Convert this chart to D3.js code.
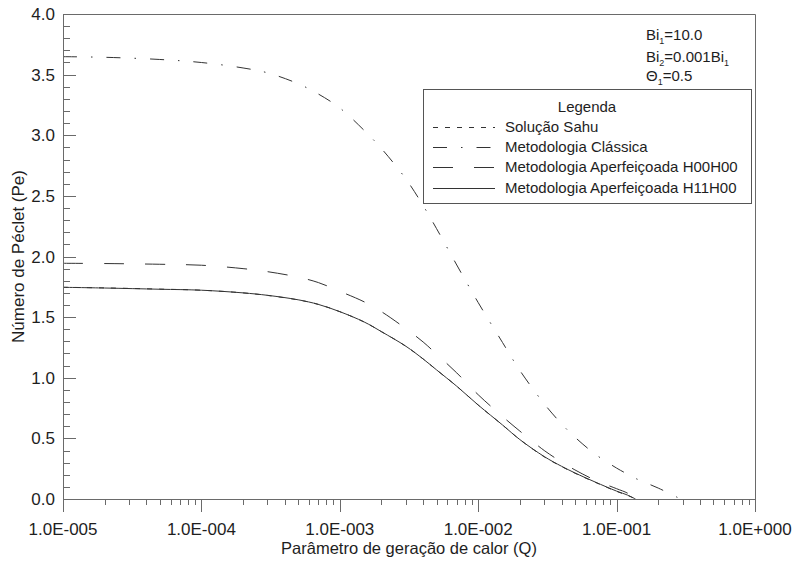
<!DOCTYPE html>
<html>
<head>
<meta charset="utf-8">
<script src="https://cdn.jsdelivr.net/npm/d3@7"></script>
<style>
    body { margin: 0; background: #fff; }
    svg { display: block; font-family: "Liberation Sans", Arial, sans-serif; }
</style>
</head>
<body>
<svg id="chart" width="795" height="563"></svg>
<script>
// values
const qValues = [1e-5, 2e-5, 5e-5, 1e-4, 2e-4, 3e-4, 5e-4, 7e-4, 1e-3, 1.5e-3, 2e-3, 3e-3, 4e-3, 5e-3,
    7e-3, 1e-2, 1.5e-2, 2e-2, 3e-2, 4e-2, 5e-2, 7e-2, 0.1, 0.12, 0.137];
const classicaQ = [1e-5, 2e-5, 5e-5, 1e-4, 2e-4, 3e-4, 5e-4, 7e-4, 1e-3, 1.5e-3, 2e-3, 3e-3, 4e-3, 5e-3,
    7e-3, 1e-2, 1.5e-2, 2e-2, 3e-2, 4e-2, 5e-2, 7e-2, 0.1, 0.12, 0.14, 0.2, 0.29];
const classica = [3.648, 3.643, 3.625, 3.60, 3.555, 3.515, 3.425, 3.34, 3.225, 3.04, 2.89, 2.64, 2.42, 2.23,
    1.93, 1.62, 1.29, 1.06, 0.785, 0.62, 0.51, 0.37, 0.255, 0.205, 0.165, 0.09, 0.0];
const h00h00 = [1.944, 1.942, 1.936, 1.928, 1.90, 1.875, 1.83, 1.785, 1.713, 1.626, 1.545, 1.405, 1.295, 1.195,
    1.04, 0.86, 0.68, 0.56, 0.40, 0.305, 0.24, 0.155, 0.085, 0.048, 0.0];
const h11h00 = [1.746, 1.74, 1.73, 1.722, 1.70, 1.68, 1.643, 1.605, 1.545, 1.46, 1.38, 1.26, 1.155, 1.065,
    0.93, 0.775, 0.61, 0.49, 0.35, 0.27, 0.215, 0.14, 0.065, 0.032, 0.0];
const sahu = [1.746, 1.741, 1.731, 1.722, 1.70, 1.679, 1.642, 1.605, 1.545, 1.46, 1.38, 1.26, 1.155, 1.065,
    0.93, 0.775, 0.61, 0.49, 0.348, 0.268, 0.213, 0.138, 0.063, 0.03, 0.0];

const xTickValues = [1e-5, 1e-4, 1e-3, 1e-2, 1e-1, 1];
const xTickLabels = ["1.0E-005", "1.0E-004", "1.0E-003", "1.0E-002", "1.0E-001", "1.0E+000"];
const yTickValues = [0, 0.5, 1, 1.5, 2, 2.5, 3, 3.5, 4];
const yTickLabels = ["0.0", "0.5", "1.0", "1.5", "2.0", "2.5", "3.0", "3.5", "4.0"];

const seriesNames = ["Solução Sahu", "Metodologia Clássica", "Metodologia Aperfeiçoada H00H00", "Metodologia Aperfeiçoada H11H00"];

const svg = d3.select("#chart");
const plotLeft = 63, plotRight = 755, plotTop = 14, plotBottom = 499;
const axisColor = "#6a6a6a";
const lineColor = "#333";
const textColor = "#1e1e1e";

const x = d3.scaleLog().domain([1e-5, 1]).range([plotLeft, plotRight]);
const y = d3.scaleLinear().domain([0, 4]).range([plotBottom, plotTop]);

// curves
const series = [
    { name: seriesNames[0], q: qValues, v: sahu, dash: "5,7" },
    { name: seriesNames[1], q: classicaQ, v: classica, dash: "14,14,1.5,14" },
    { name: seriesNames[2], q: qValues, v: h00h00, dash: "20,21" },
    { name: seriesNames[3], q: qValues, v: h11h00, dash: null },
];

const line = d3.line()
    .x(d => x(d[0]))
    .y(d => y(d[1]))
    .curve(d3.curveCatmullRom.alpha(0.5));

const curves = svg.append("g").attr("id", "curves");
for (let s of series) {
    curves.append("path")
        .attr("d", line(d3.zip(s.q, s.v)))
        .attr("fill", "none")
        .attr("stroke", lineColor)
        .attr("stroke-width", 1)
        .attr("stroke-dasharray", s.dash);
}

// frame
const frame = svg.append("g").attr("stroke", axisColor).attr("stroke-width", 1).attr("fill", "none");
frame.append("path")
    .attr("d", `M${plotLeft + 0.5},${plotBottom + 0.5}V${plotTop + 0.5}H${plotRight + 0.5}V${plotBottom + 0.5}H${plotLeft + 0.5}`);

// y ticks, pointing inward
const yMinor = y.ticks(40);
frame.selectAll(".ytick")
    .data(yMinor)
    .join("line")
    .attr("x1", plotLeft)
    .attr("x2", d => plotLeft + (Math.abs(d * 2 - Math.round(d * 2)) < 1e-6 ? 13 : 7))
    .attr("y1", d => Math.round(y(d)) + 0.5)
    .attr("y2", d => Math.round(y(d)) + 0.5);

// x ticks, pointing outward
const xMinor = x.ticks().filter(d => !xTickValues.some(m => Math.abs(m - d) / m < 1e-9));
frame.selectAll(".xminor")
    .data(xMinor)
    .join("line")
    .attr("x1", d => Math.round(x(d)) + 0.5)
    .attr("x2", d => Math.round(x(d)) + 0.5)
    .attr("y1", plotBottom)
    .attr("y2", plotBottom + 6);
frame.selectAll(".xmajor")
    .data(xTickValues)
    .join("line")
    .attr("x1", d => Math.round(x(d)) + 0.5)
    .attr("x2", d => Math.round(x(d)) + 0.5)
    .attr("y1", plotBottom)
    .attr("y2", plotBottom + 13);

// tick labels
svg.append("g")
    .selectAll("text")
    .data(xTickValues)
    .join("text")
    .attr("x", d => x(d))
    .attr("y", 535)
    .attr("text-anchor", "middle")
    .attr("font-size", 17)
    .attr("fill", textColor)
    .text((d, i) => xTickLabels[i]);

svg.append("g")
    .selectAll("text")
    .data(yTickValues)
    .join("text")
    .attr("x", 55)
    .attr("y", d => y(d))
    .attr("dy", "0.36em")
    .attr("text-anchor", "end")
    .attr("font-size", 17)
    .attr("fill", textColor)
    .text((d, i) => yTickLabels[i]);

// axis titles
svg.append("text")
    .attr("x", (plotLeft + plotRight) / 2)
    .attr("y", 554)
    .attr("text-anchor", "middle")
    .attr("font-size", 16.5)
    .attr("fill", textColor)
    .text("Parâmetro de geração de calor (Q)");

svg.append("text")
    .attr("transform", `translate(24,${(plotTop + plotBottom) / 2}) rotate(-90)`)
    .attr("text-anchor", "middle")
    .attr("font-size", 17)
    .attr("fill", textColor)
    .text("Número de Péclet (Pe)");

// parameters note
const note = svg.append("g").attr("font-size", 15).attr("fill", textColor);
function noteLine(yPos, parts) {
    const t = note.append("text").attr("x", 646).attr("y", yPos);
    for (let p of parts) {
        const span = t.append("tspan").text(p.t);
        if (p.sub) span.attr("font-size", 9).attr("dy", 4);
        else if (p.back) span.attr("dy", -4);
    }
}
noteLine(40, [{ t: "Bi" }, { t: "1", sub: true }, { t: "=10.0", back: true }]);
noteLine(62, [{ t: "Bi" }, { t: "2", sub: true }, { t: "=0.001Bi", back: true }, { t: "1", sub: true }]);
noteLine(81, [{ t: "Θ" }, { t: "1", sub: true }, { t: "=0.5", back: true }]);

// legend
const legend = svg.append("g");
legend.append("rect")
    .attr("x", 423.5).attr("y", 89.5)
    .attr("width", 328).attr("height", 114)
    .attr("fill", "#fff")
    .attr("stroke", "#555");
legend.append("text")
    .attr("x", 587).attr("y", 112)
    .attr("text-anchor", "middle")
    .attr("font-size", 15)
    .attr("fill", textColor)
    .text("Legenda");
const legendY = [127, 147, 167, 188];
series.forEach((s, i) => {
    legend.append("line")
        .attr("x1", 433).attr("x2", 495)
        .attr("y1", legendY[i] + 0.5).attr("y2", legendY[i] + 0.5)
        .attr("stroke", lineColor)
        .attr("stroke-width", 1)
        .attr("stroke-dasharray", s.dash);
    legend.append("text")
        .attr("x", 505).attr("y", legendY[i] + 5)
        .attr("font-size", 15)
        .attr("fill", textColor)
        .text(s.name);
});
</script>
</body>
</html>
